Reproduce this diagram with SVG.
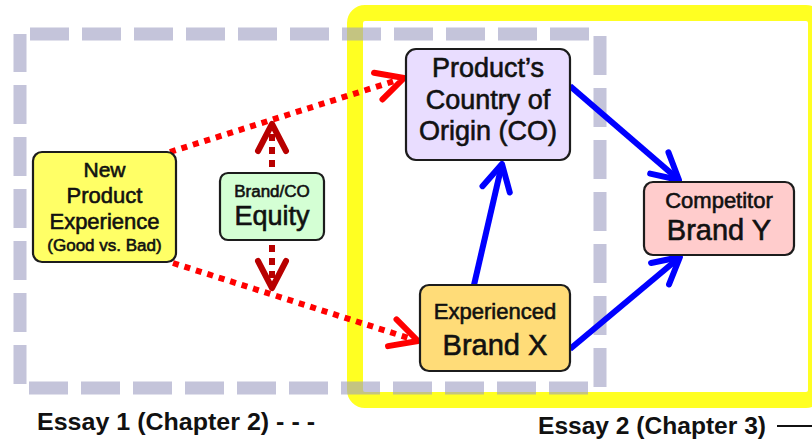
<svg xmlns="http://www.w3.org/2000/svg" width="812" height="446" viewBox="0 0 812 446">
<style>
text{font-family:"Liberation Sans",Arial,sans-serif;fill:#111;text-anchor:middle}
.node text{stroke:#111;stroke-width:0.6}
.node rect{stroke:#1c1c1c;stroke-width:2.2}
.red{fill:none;stroke:#ff0000;stroke-width:6;stroke-dasharray:6 6}
.dred{fill:none;stroke:#b80000;stroke-width:6;stroke-dasharray:7 6}
.blue{fill:none;stroke:#0000ff;stroke-width:6}
.essay{font-weight:bold;font-size:24px;text-anchor:start}
</style>
<defs>
<marker id="mRed" markerUnits="userSpaceOnUse" orient="auto" overflow="visible" markerWidth="1" markerHeight="1">
<path d="M-27,-14 L0,0 L-27,14" fill="none" stroke="#ff0000" stroke-width="6" stroke-linecap="round" stroke-linejoin="round"/>
</marker>
<marker id="mDred" markerUnits="userSpaceOnUse" orient="auto" overflow="visible" markerWidth="1" markerHeight="1">
<path d="M-27,-14 L0,0 L-27,14" fill="none" stroke="#b80000" stroke-width="6" stroke-linecap="round" stroke-linejoin="round"/>
</marker>
<marker id="mBlue" markerUnits="userSpaceOnUse" orient="auto" overflow="visible" markerWidth="1" markerHeight="1">
<path d="M-26,-14 L0,0 L-26,14" fill="none" stroke="#0000ff" stroke-width="6" stroke-linecap="round" stroke-linejoin="round"/>
</marker>
</defs>
<rect width="812" height="446" fill="#fff"/>
<g id="frames">
<rect x="355" y="13" width="461" height="387" rx="10" fill="none" stroke="#ffff22" stroke-width="16"/>
<rect x="20" y="34" width="580" height="354" fill="none" stroke="#9d9dc1" stroke-opacity="0.6" stroke-width="13" stroke-dasharray="39 13" stroke-dashoffset="42"/>
</g>
<g id="connectors">
<path class="red" d="M170,152 L404,78" marker-end="url(#mRed)"/>
<path class="red" d="M173,263 L418,341" marker-end="url(#mRed)"/>
<path class="dred" d="M272,206 L272,124" marker-end="url(#mDred)"/>
<path class="dred" d="M272,206 L272,288" marker-end="url(#mDred)"/>
<path class="blue" d="M474,285 L502,164" marker-end="url(#mBlue)"/>
<path class="blue" d="M570,86 L679,180" marker-end="url(#mBlue)"/>
<path class="blue" d="M570,349 L680,257" marker-end="url(#mBlue)"/>
</g>
<g id="node-npe" class="node">
<rect x="33" y="152" width="143" height="110" rx="9" fill="#ffff66"/>
<text x="104.5" y="177" font-size="21">New</text>
<text x="104.5" y="203" font-size="22">Product</text>
<text x="104.5" y="229" font-size="22">Experience</text>
<text x="104.5" y="251" font-size="17">(Good vs. Bad)</text>
</g>
<g id="node-equity" class="node">
<rect x="220" y="173" width="104" height="67" rx="8" fill="#d4ffd4"/>
<text x="272" y="197" font-size="17">Brand/CO</text>
<text x="272" y="225" font-size="27">Equity</text>
</g>
<g id="node-co" class="node">
<rect x="406" y="49" width="164" height="111" rx="10" fill="#e9ddff"/>
<text x="488" y="77" font-size="27">Product’s</text>
<text x="488" y="109" font-size="27">Country of</text>
<text x="488" y="140" font-size="27">Origin (CO)</text>
</g>
<g id="node-brandy" class="node">
<rect x="644" y="182" width="150" height="73" rx="9" fill="#ffcccc"/>
<text x="719" y="208" font-size="22">Competitor</text>
<text x="719" y="240" font-size="29">Brand Y</text>
</g>
<g id="node-brandx" class="node">
<rect x="420" y="285" width="150" height="86" rx="9" fill="#ffdc78"/>
<text x="495" y="319" font-size="22">Experienced</text>
<text x="495" y="355" font-size="29">Brand X</text>
</g>
<g id="labels">
<text class="essay" x="37" y="430" textLength="278" lengthAdjust="spacingAndGlyphs">Essay 1 (Chapter 2) - - -</text>
<text class="essay" x="538" y="434" textLength="228" lengthAdjust="spacingAndGlyphs">Essay 2 (Chapter 3)</text>
<line x1="777" y1="426" x2="812" y2="426" stroke="#111" stroke-width="2"/>
</g>
</svg>
